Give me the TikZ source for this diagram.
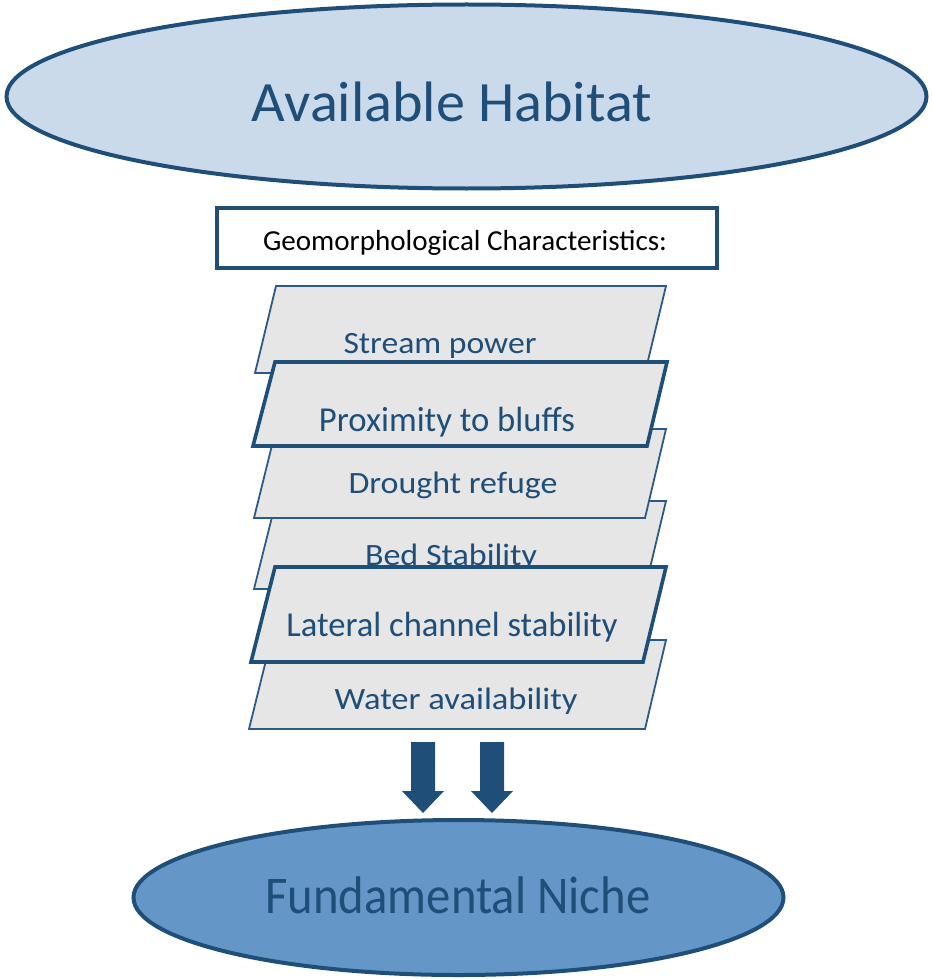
\documentclass[tikz,border=0pt]{standalone}
\usepackage{fontspec}
\setmainfont{Carlito}
\usetikzlibrary{shapes.geometric}
\definecolor{dblue}{HTML}{1F4E79}
\definecolor{pblue}{HTML}{2B5A88}
\definecolor{lblue}{HTML}{CADAEB}
\definecolor{mblue}{HTML}{6497C8}
\definecolor{pgray}{HTML}{E6E6E6}
\newcommand{\fitw}[3]{\resizebox{#1pt}{\height}{\fontsize{#2}{#2}\selectfont #3}}
\tikzset{
  oval/.style={ellipse, draw=dblue, line width=4pt, inner sep=0pt},
  plate/.style={fill=pgray, draw=pblue, line width=1.8pt, line join=miter},
  plateb/.style={fill=pgray, draw=dblue, line width=3.6pt, line join=miter},
  lbl/.style={anchor=base, inner sep=0pt, text=dblue},
  blockarrow/.style={fill=dblue, draw=none}
}
\begin{document}
\begin{tikzpicture}[x=1pt, y=-1pt]
\useasboundingbox (0,0) rectangle (931,979);
% top ellipse
\node[oval, fill=lblue, minimum width=920pt, minimum height=184pt] (habitat) at (466.5,96.5) {};
\node[lbl] (habitatlbl) at (452,122) {\fitw{400}{57}{Available Habitat}};
% box
\node[draw=dblue, line width=4pt, fill=white, minimum width=500pt, minimum height=60pt, inner sep=0pt] (geo) at (467,238) {};
\node[lbl, text=black] (geolbl) at (465,250) {\fitw{404}{29}{Geomorphological Characteristics:}};
% plates (drawing order matters)
\draw[plate] (276,286) -- (666,286) -- (645,373) -- (255,373) -- cycle;
\node[lbl] (stream) at (440,353) {\fitw{193}{31}{Stream power}};
\draw[plate] (276,501) -- (666,501) -- (645,589) -- (254,589) -- cycle;
\node[lbl] (bed) at (451,565) {\fitw{172}{31}{Bed Stability}};
\draw[plate] (276,429) -- (666,429) -- (645,518) -- (254,518) -- cycle;
\node[lbl] (drought) at (453,493) {\fitw{209}{31}{Drought refuge}};
\draw[plate] (271,640) -- (666,640) -- (645,729) -- (249,729) -- cycle;
\node[lbl] (water) at (456,709) {\fitw{243}{31}{Water availability}};
\draw[plateb] (275,362) -- (667,362) -- (647,446) -- (253,446) -- cycle;
\node[lbl] (prox) at (447,431) {\fitw{256}{35}{Proximity to bluffs}};
\draw[plateb] (275,567) -- (666,567) -- (643,662) -- (251,662) -- cycle;
\node[lbl] (lateral) at (452,636) {\fitw{331}{35}{Lateral channel stability}};
% block arrows
\fill[blockarrow] (411,742) -- (435,742) -- (435,791) -- (444,791) -- (423,813) -- (402,791) -- (411,791) -- cycle;
\fill[blockarrow] (480,742) -- (504,742) -- (504,791) -- (513,791) -- (492,813) -- (471,791) -- (480,791) -- cycle;
% bottom ellipse
\node[oval, fill=mblue, minimum width=650pt, minimum height=155pt] (niche) at (458.5,897.5) {};
\node[lbl] (nichelbl) at (458,913) {\fitw{385}{53}{Fundamental Niche}};
\end{tikzpicture}
\end{document}
